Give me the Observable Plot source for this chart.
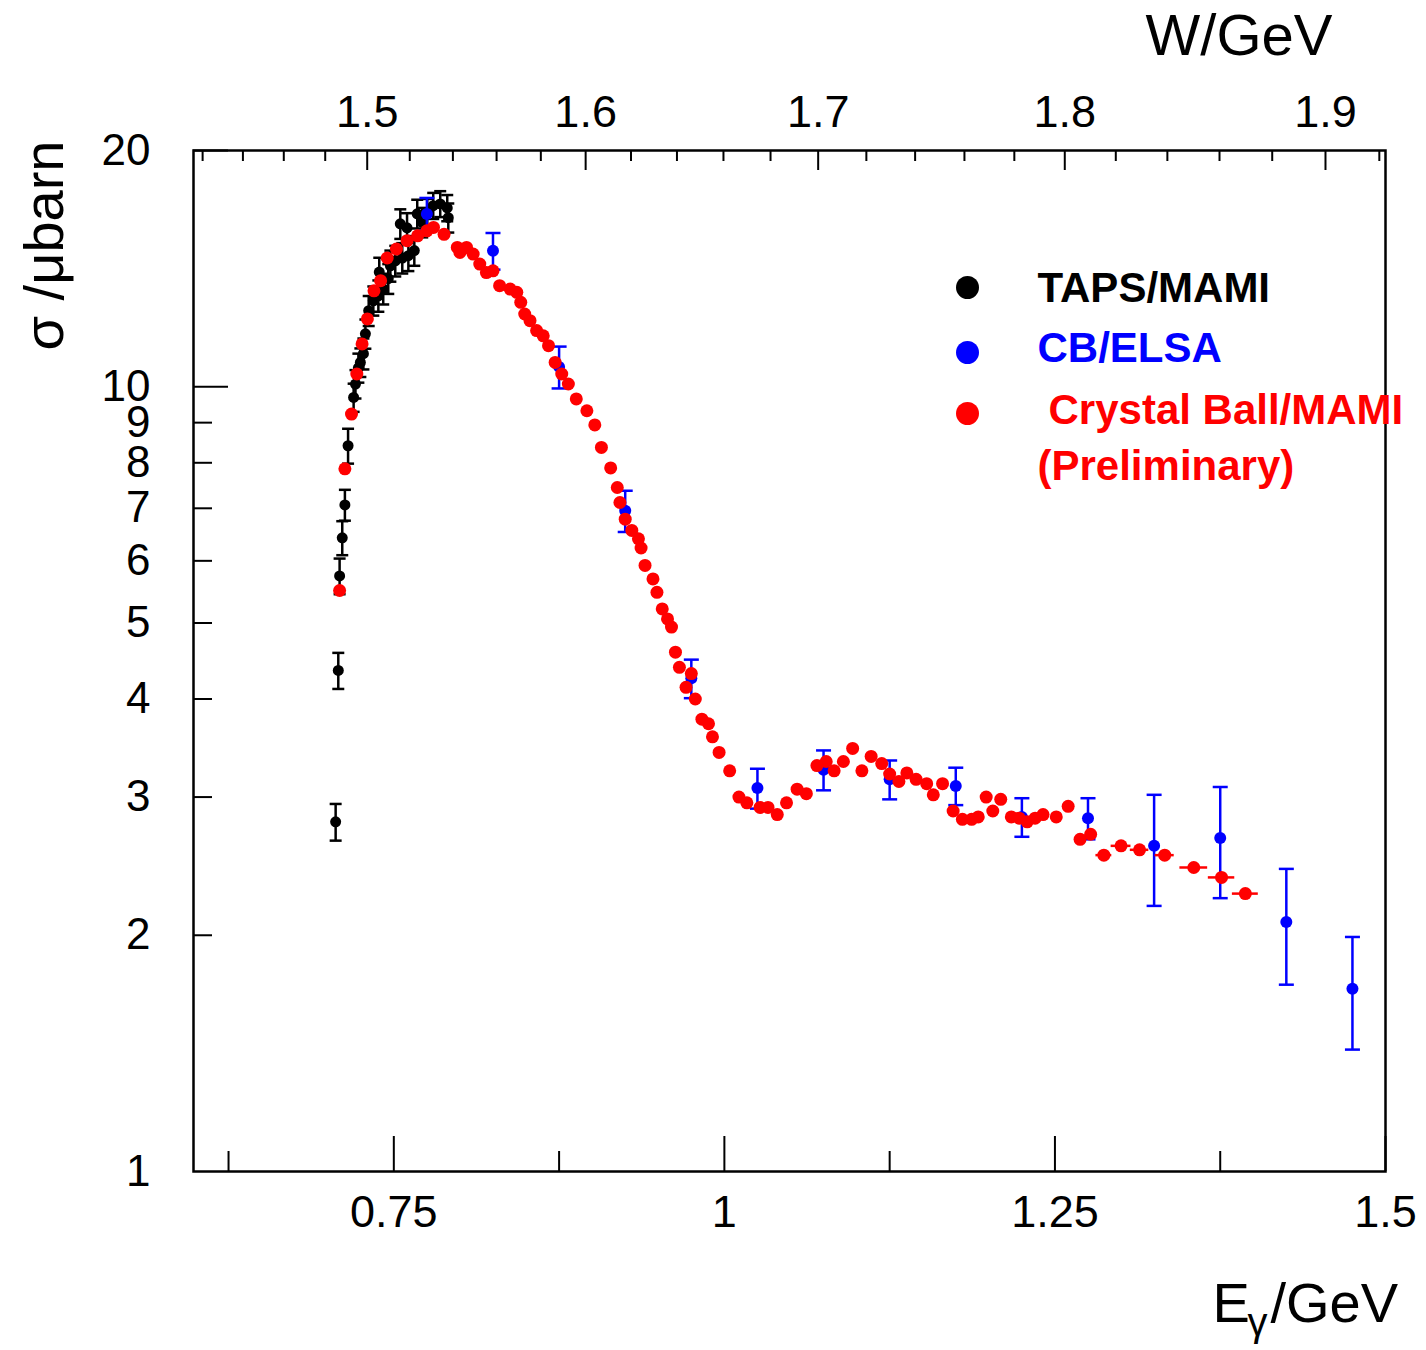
<!DOCTYPE html>
<html>
<head>
<meta charset="utf-8">
<script src="https://cdn.jsdelivr.net/npm/d3@7"></script>
<script src="https://cdn.jsdelivr.net/npm/@observablehq/plot@0.6"></script>
<style>
  html, body { margin: 0; padding: 0; background: #fff; }
  #chart svg { display: block; }
</style>
</head>
<body>
<div id="chart"></div>
<script>
// ---------------- data ----------------
// TAPS/MAMI (black): photon energy (GeV), cross section (µb), error (µb)
const tapsE = [0.706,0.708,0.709,0.711,0.713,0.7154,0.7196,0.721,0.7232,0.7247,0.727,0.7285,0.731,0.7345,0.7383,0.739,0.742,0.7458,0.7474,0.7511,0.7549,0.7564,0.760,0.761,0.7655,0.7677,0.7715,0.7753,0.7798,0.7851,0.7904,0.7912];
const tapsS = [2.79,4.35,5.74,6.42,7.07,8.41,9.69,10.08,10.57,10.74,11.02,11.68,12.50,12.87,13.06,14.0,13.33,13.73,14.26,14.47,16.13,14.59,15.94,14.69,14.91,16.61,16.2,16.65,17.01,17.1,16.9,16.42];
const tapsErr = [0.15,0.23,0.30,0.32,0.32,0.43,0.4,0.42,0.45,0.45,0.5,0.5,0.55,0.55,0.6,0.6,0.6,0.6,0.65,0.65,0.7,0.65,0.7,0.65,0.65,0.7,0.7,0.7,0.65,0.65,0.65,0.7];

// CB/ELSA (blue)
const elsaE = [0.775,0.825,0.875,0.925,0.975,1.025,1.075,1.125,1.175,1.225,1.275,1.325,1.375,1.425,1.475];
const elsaS = [16.6,14.9,10.6,6.95,4.25,3.08,3.25,3.16,3.10,2.83,2.82,2.60,2.66,2.08,1.71];
const elsaErr = [0.8,0.8,0.65,0.42,0.24,0.18,0.19,0.18,0.17,0.16,0.17,0.42,0.43,0.35,0.28];

// Crystal Ball/MAMI (red, preliminary)
const cbE = [0.709,0.713,0.718,0.722,0.726,0.730,0.735,0.740,0.745,0.752,
             0.760,0.768,0.775,0.780,0.788,0.798,0.800,0.805,0.810,0.815,
             0.820,0.825,0.830,0.838,0.843,0.846,0.849,0.853,0.858,0.863,
             0.867,0.872,0.877,0.882,0.888,0.896,0.902,0.907,0.914,0.919,
             0.921,0.925,0.930,0.935,0.937,0.940,0.946,0.949,0.953,0.957,
             0.960,0.963,0.966,0.971,0.975,0.978,0.983,0.988,0.991,0.996,
             1.004,1.011,1.017,1.027,1.033,1.040,1.047,1.055,1.062,1.070,
             1.077,1.083,1.090,1.097,1.104,1.111,1.119,1.125,1.132,1.138,
             1.145,1.153,1.158,1.165,1.173,1.180,1.187,1.192,1.198,1.203,
             1.209,1.217,1.223,1.229,1.235,1.241,1.251,1.260,1.269,1.277,
             1.287,1.300,1.314,1.333,1.355,1.376,1.394];
const cbS = [5.50,7.86,9.23,10.38,11.34,12.20,13.25,13.65,14.59,14.98,
             15.35,15.57,15.80,15.96,15.64,15.05,14.83,15.05,14.76,14.33,
             13.98,14.05,13.45,13.32,13.19,12.81,12.38,12.14,11.79,11.61,
             11.28,10.74,10.38,10.08,9.65,9.32,8.94,8.37,7.88,7.44,
             7.12,6.78,6.56,6.40,6.23,5.92,5.69,5.47,5.21,5.06,
             4.94,4.59,4.39,4.14,4.31,4.00,3.77,3.72,3.58,3.42,
             3.24,3.00,2.95,2.91,2.91,2.85,2.95,3.07,3.03,3.29,
             3.33,3.24,3.33,3.46,3.24,3.38,3.31,3.21,3.14,3.22,
             3.16,3.12,3.02,3.12,2.88,2.81,2.81,2.83,3.00,2.88,
             2.98,2.83,2.82,2.79,2.82,2.85,2.83,2.92,2.65,2.69,
             2.53,2.60,2.57,2.53,2.44,2.37,2.26];
// horizontal half-widths (GeV) of the bars on the last points of the red series
const cbXerrTail = [0.006,0.0075,0.007,0.0072,0.0105,0.010,0.0098];

// axis ticks
const xMajorTicks = [0.75, 1, 1.25, 1.5];
const xMinorTicks = [0.625, 0.875, 1.125, 1.375];
const yLabelTicks = [1,2,3,4,5,6,7,8,9,10,20];
const yMajorTicks = [10, 20];
const yMinorTicks = [2,3,4,5,6,7,8,9];
const wMajorTicks = [1.5, 1.6, 1.7, 1.8, 1.9];
const wMinorTicks = [1.42,1.44,1.46,1.48,1.52,1.54,1.56,1.58,1.62,1.64,1.66,1.68,1.72,1.74,1.76,1.78,1.82,1.84,1.86,1.88,1.92];
const protonMass = 0.938272; // GeV, converts W to photon energy

const legendNames = ["TAPS/MAMI", "CB/ELSA", "Crystal Ball/MAMI"];
const legendColors = ["#000000", "#0000ff", "#ff0000"];

// ---------------- build ----------------
const taps = tapsE.map((e, i) => ({e, s: tapsS[i], err: tapsErr[i]}));
const elsa = elsaE.map((e, i) => ({e, s: elsaS[i], err: elsaErr[i]}));
const cb = cbE.map((e, i) => ({e, s: cbS[i]}));
const cbTail = cb.slice(cb.length - cbXerrTail.length).map((d, i) => ({...d, xe: cbXerrTail[i]}));
const wToE = w => (w * w - protonMass * protonMass) / (2 * protonMass);

const W = 1426, H = 1350;
const mL = 193, mR = 41, mT = 150, mB = 179;
const FW = W - mL - mR, FH = H - mT - mB;
const FONT = "'Liberation Sans', Arial, Helvetica, sans-serif";

const cap = {draw(ctx, size) { const w = Math.sqrt(size / Math.PI); ctx.moveTo(-w, 0); ctx.lineTo(w, 0); }};

function errorMarks(data, color, capR, sw) {
  return [
    Plot.ruleX(data, {x: "e", y1: d => d.s - d.err, y2: d => d.s + d.err, stroke: color, strokeWidth: sw}),
    Plot.dot(data, {x: "e", y: d => d.s + d.err, symbol: cap, r: capR, stroke: color, strokeWidth: sw, fill: "none"}),
    Plot.dot(data, {x: "e", y: d => d.s - d.err, symbol: cap, r: capR, stroke: color, strokeWidth: sw, fill: "none"})
  ];
}

function label(txt, opts) {
  return Plot.text([txt], {text: d => d, lineAnchor: "middle", fill: "#000", ...opts});
}

const legendDy = [137, 202, 263];
const legendTextDy = [138, 198, 260];
const legendTextDx = [844, 844, 855];

const chart = Plot.plot({
  width: W, height: H,
  marginLeft: mL, marginRight: mR, marginTop: mT, marginBottom: mB,
  style: {fontFamily: FONT, background: "#fff", overflow: "visible"},
  x: {domain: [0.5985, 1.5], axis: null},
  y: {type: "log", domain: [1, 20], axis: null},
  marks: [
    // axes ticks (inward)
    Plot.tickX(xMajorTicks, {x: d => d, insetTop: FH - 35, stroke: "#000", strokeWidth: 2}),
    Plot.tickX(xMinorTicks, {x: d => d, insetTop: FH - 20, stroke: "#000", strokeWidth: 2}),
    Plot.tickX(wMajorTicks, {x: wToE, insetBottom: FH - 20, stroke: "#000", strokeWidth: 2}),
    Plot.tickX(wMinorTicks, {x: wToE, insetBottom: FH - 11, stroke: "#000", strokeWidth: 2}),
    Plot.tickY(yMajorTicks, {y: d => d, insetRight: FW - 35, stroke: "#000", strokeWidth: 2}),
    Plot.tickY(yMinorTicks, {y: d => d, insetRight: FW - 19, stroke: "#000", strokeWidth: 2}),
    // tick labels
    Plot.text(xMajorTicks, {x: d => d, frameAnchor: "bottom", lineAnchor: "middle", dy: 41, text: d => String(d), fontSize: 45, fill: "#000"}),
    Plot.text(wMajorTicks, {x: wToE, frameAnchor: "top", lineAnchor: "middle", dy: -38, text: d => d.toFixed(1), fontSize: 45, fill: "#000"}),
    Plot.text(yLabelTicks, {y: d => d, frameAnchor: "left", lineAnchor: "middle", dx: -43, textAnchor: "end", text: d => String(d), fontSize: 44, fill: "#000"}),
    // axis titles
    label("W/GeV", {frameAnchor: "top-right", dx: -53, dy: -114, textAnchor: "end", fontSize: 58}),
    label("σ /μbarn", {frameAnchor: "top-left", dx: -148, dy: -10, rotate: -90, textAnchor: "end", fontSize: 56}),
    label("E", {frameAnchor: "bottom-right", dx: -173, dy: 133, textAnchor: "start", fontSize: 56}),
    label("γ", {frameAnchor: "bottom-right", dx: -138, dy: 152, textAnchor: "start", fontSize: 40}),
    label("/GeV", {frameAnchor: "bottom-right", dx: -115, dy: 133, textAnchor: "start", fontSize: 56}),
    // data
    ...errorMarks(taps, "#000", 6, 2.5),
    Plot.dot(taps, {x: "e", y: "s", r: 5.5, fill: "#000", stroke: "none"}),
    ...errorMarks(elsa, "#0000ff", 7.5, 2.5),
    Plot.dot(elsa, {x: "e", y: "s", r: 6, fill: "#0000ff", stroke: "none"}),
    Plot.ruleY(cbTail, {y: "s", x1: d => d.e - d.xe, x2: d => d.e + d.xe, stroke: "#ff0000", strokeWidth: 2.5}),
    Plot.dot(cb, {x: "e", y: "s", r: 6.5, fill: "#ff0000", stroke: "none"}),
    // frame
    Plot.frame({stroke: "#000", strokeWidth: 2.5}),
    // legend
    ...legendNames.map((name, i) => Plot.dot([name], {frameAnchor: "top-left", dx: 774, dy: legendDy[i], r: 11.5, fill: legendColors[i], stroke: "none"})),
    ...legendNames.map((name, i) => label(name, {frameAnchor: "top-left", dx: legendTextDx[i], dy: legendTextDy[i], textAnchor: "start", fontSize: 42, fontWeight: "bold", fill: legendColors[i]})),
    label("(Preliminary)", {frameAnchor: "top-left", dx: 844, dy: 316, textAnchor: "start", fontSize: 42, fontWeight: "bold", fill: legendColors[2]})
  ]
});
document.getElementById("chart").appendChild(chart);
</script>
</body>
</html>
